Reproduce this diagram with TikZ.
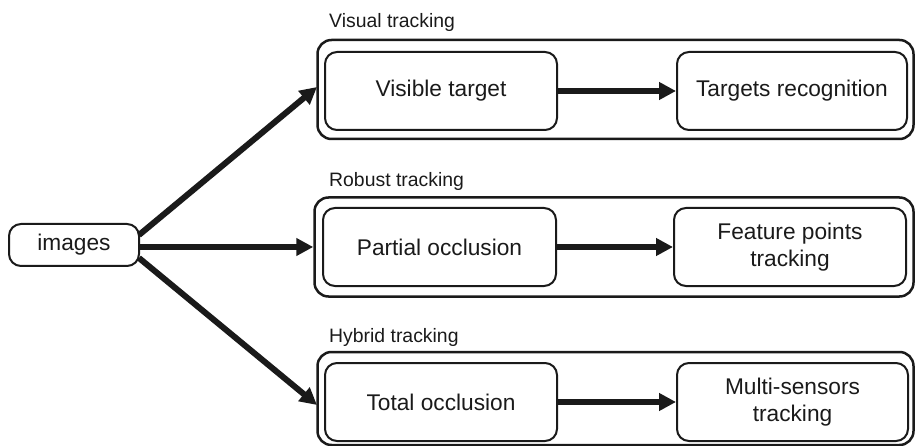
\documentclass[tikz,border=0pt]{standalone}
\usepackage{fontspec}
\setmainfont{Liberation Sans}
\usetikzlibrary{arrows.meta}
\definecolor{ink}{HTML}{1A1A1A}
\begin{document}
\begin{tikzpicture}[x=1pt,y=-1pt,
  box/.style={draw=ink,line width=2pt,rounded corners=12pt,inner sep=0pt,align=center,
    font=\fontsize{22.7}{27.5}\selectfont,text=ink},
  group/.style={draw=ink,line width=2.5pt,rounded corners=14pt,inner sep=0pt},
  grouplabel/.style={anchor=base west,inner sep=0pt,font=\fontsize{19.4}{23}\selectfont,text=ink},
  flow/.style={draw=ink,line width=6pt,-{Triangle[length=17pt,width=17pt]}},
]
\useasboundingbox (0,0) rectangle (915,446);

% source
\node[box,minimum width=130pt,minimum height=42pt] (img) at (74,245) {images};

% groups
\node[group,minimum width=596pt,minimum height=99pt] (g1) at (615.5,89.5) {};
\node[group,minimum width=599pt,minimum height=99pt] (g2) at (614,247) {};
\node[group,minimum width=596pt,minimum height=93pt] (g3) at (615.5,398.5) {};

\node[grouplabel] (l1) at (329,28) {Visual tracking};
\node[grouplabel] (l2) at (329,187) {Robust tracking};
\node[grouplabel] (l3) at (329,342) {Hybrid tracking};

% inner boxes
\node[box,minimum width=232pt,minimum height=78pt] (a1) at (441,91) {Visible target};
\node[box,minimum width=230pt,minimum height=78pt] (b1) at (792,91) {Targets recognition};
\node[box,minimum width=233pt,minimum height=78pt] (a2) at (439.5,247) {Partial occlusion};
\node[box,minimum width=232pt,minimum height=78pt] (b2) at (790,247) {Feature points\\tracking};
\node[box,minimum width=232pt,minimum height=78pt] (a3) at (441,402) {Total occlusion};
\node[box,minimum width=231pt,minimum height=78pt] (b3) at (792.5,402) {Multi-sensors\\tracking};

% start / end points on the borders
\coordinate (s1) at (139,235);
\coordinate (s2) at (139,247);
\coordinate (s3) at (139,258);
\coordinate (e1) at (317,87);
\coordinate (e3) at (317,405);

\draw[flow] (s1) -- (e1);
\draw[flow] (s2) -- (g2.west);
\draw[flow] (s3) -- (e3);

\draw[flow] (a1) -- (b1);
\draw[flow] (a2) -- (b2);
\draw[flow] (a3) -- (b3);
\end{tikzpicture}
\end{document}
